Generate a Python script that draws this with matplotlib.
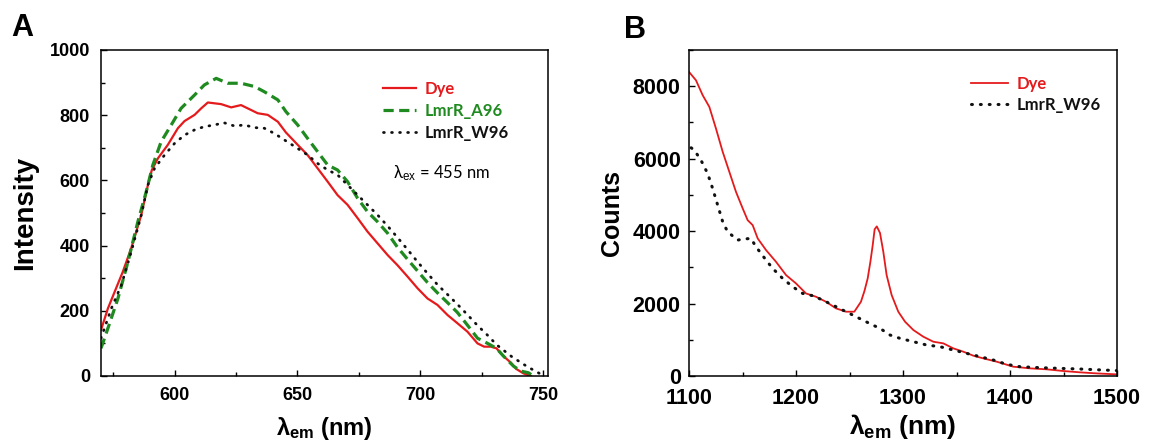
import matplotlib
matplotlib.use("Agg")
import matplotlib.pyplot as plt
from matplotlib.ticker import MultipleLocator

# ---------------- data ----------------
# Panel A : emission spectra, excitation 455 nm
wl_dye_A = [570, 572.8, 575.6, 578.9, 582.3, 586.4, 589.1, 590.7, 593.2, 597.2, 601.3, 604, 608.1,
            610.8, 613.5, 618.9, 623, 627, 631.1, 633.8, 637.9, 642, 645.3, 650.1, 654.1, 658.2,
            662.3, 666.3, 670.4, 674.5, 678.5, 682.6, 686.7, 690.7, 694.8, 698.9, 702.9, 707,
            711.1, 715.1, 719.2, 723.3, 726, 728.7, 731, 734, 737, 739, 742, 745]
int_dye_A = [141, 207, 259, 320, 392, 494, 586, 632, 668, 709, 760, 782, 801,
             821, 839, 834, 824, 831, 816, 806, 801, 780, 747, 709, 678, 637,
             596, 555, 525, 484, 443, 407, 371, 340, 305, 269, 238, 218,
             187, 162, 136, 100, 90, 90, 85, 60, 40, 22, 8, 0]

wl_a96_A = [570, 572.8, 576.9, 581, 585, 588.4, 591.1, 594.5, 598.6, 602.6, 608.1, 612.1, 616.9,
            621.6, 627, 632.5, 636.5, 642, 645.3, 650.1, 654.1, 658.2, 662.3, 666.3, 670.4,
            674.5, 678.5, 682.6, 686.7, 690.7, 694.8, 698.9, 702.9, 707, 711.1, 715.1, 719.2,
            723.3, 727.4, 731, 734, 738, 741, 744, 746]
int_a96_A = [85, 146, 238, 351, 473, 565, 647, 719, 770, 821, 862, 893, 913,
             898, 898, 888, 872, 847, 811, 770, 729, 688, 647, 632, 596,
             545, 504, 473, 438, 395, 358, 322, 287, 255, 225, 195, 156,
             116, 100, 85, 60, 30, 15, 10, 0]

wl_w96_A = [570, 574.2, 578.3, 582.3, 586.4, 589.1, 591.8, 595.9, 600, 604, 608.1, 612.1, 616.2,
            620, 624.3, 628.4, 632.5, 636.5, 640.6, 644.7, 650.1, 654.1, 658.2, 662.3, 666.3,
            670.4, 674.5, 678.5, 682.6, 686.7, 690.7, 694.8, 698.9, 702.9, 707, 711.1, 715.1,
            719.2, 723.3, 727.4, 731.2, 737.3, 743.5, 749.7]
int_w96_A = [116, 207, 279, 381, 494, 586, 637, 678, 714, 739, 755, 765, 770,
             777, 767, 770, 762, 760, 744, 724, 698, 678, 652, 632, 617,
             586, 555, 525, 494, 460, 425, 388, 350, 315, 280, 250, 220,
             188, 155, 125, 95, 59, 29, 3]

# Panel B : NIR emission (counts)
wl_dye_B = [1100, 1106.5, 1112.8, 1119, 1125.2, 1131.5, 1137.7, 1143.9, 1150.2, 1154.8, 1159.5,
            1164.2, 1172, 1181.3, 1190.7, 1200, 1209.3, 1218.7, 1228, 1237.4, 1246.7, 1254.5,
            1260.7, 1264, 1267, 1269.5, 1271.7, 1273.5, 1275.5, 1278.5, 1281.6, 1284.7, 1289.4,
            1295.6, 1301.9, 1309.7, 1319, 1328.3, 1337.7, 1347, 1356.4, 1365.7, 1375, 1387.6,
            1403.1, 1418.7, 1434.3, 1449.8, 1465.4, 1482, 1500]
cnt_dye_B = [8395, 8165, 7751, 7430, 6832, 6188, 5636, 5085, 4625, 4303, 4165,
             3798, 3476, 3154, 2786, 2556, 2280, 2188, 2050, 1867, 1775, 1775,
             2050, 2350, 2694, 3150, 3614, 4050, 4130, 3950, 3430, 2786, 2234,
             1775, 1499, 1269, 1085, 947, 901, 763, 671, 561, 487, 395,
             257, 211, 184, 138, 101, 70, 45]

wl_w96_B = [1102, 1105, 1111.2, 1117.4, 1122.1, 1126.8, 1131.5, 1136.1, 1145.5, 1150.2, 1157.9,
            1162.6, 1167.3, 1172, 1178.2, 1187.5, 1196.9, 1206.2, 1215.6, 1225, 1234.3, 1243.6,
            1253, 1262.3, 1271.7, 1278.5, 1287.9, 1297.2, 1309.7, 1322.1, 1334.6, 1347, 1359.5,
            1372, 1384.4, 1396.9, 1409.3, 1428, 1446, 1465.4, 1483, 1500]
cnt_w96_B = [6300, 6234, 5958, 5591, 5177, 4717, 4257, 3981, 3752, 3779, 3798,
             3568, 3384, 3200, 2970, 2694, 2464, 2280, 2216, 2096, 1959, 1821,
             1683, 1545, 1407, 1315, 1131, 1039, 947, 855, 809, 717, 625,
             533, 441, 322, 257, 230, 211, 193, 170, 150]

labels_A = ["Dye", "LmrR_A96", "LmrR_W96"]
labels_B = ["Dye", "LmrR_W96"]

# ---------------- style ----------------
plt.rcParams['font.family'] = ['Liberation Sans', 'DejaVu Sans']
plt.rcParams['mathtext.fontset'] = 'custom'
plt.rcParams['mathtext.rm'] = 'Liberation Sans'
plt.rcParams['mathtext.bf'] = 'Liberation Sans:bold'
plt.rcParams['mathtext.it'] = 'Liberation Sans:italic'

RED = '#e41a1c'
GREEN = '#1f8a1f'
BLACK = '#111111'
LEG_FONT = ['Lato', 'DejaVu Sans']

W, H = 1153, 447
fig = plt.figure(figsize=(W / 100, H / 100), dpi=100)
axA = fig.add_axes([101 / W, 1 - 376 / H, 447 / W, 326 / H])
axB = fig.add_axes([689 / W, 1 - 376 / H, 428 / W, 326 / H])

dot = (0, (0.3, 2.6))

# Panel A
axA.plot(wl_dye_A, int_dye_A, color=RED, lw=1.6, label=labels_A[0])
axA.plot(wl_a96_A, int_a96_A, color=GREEN, lw=2.3, linestyle=(0, (3.2, 1.7)), label=labels_A[1])
axA.plot(wl_w96_A, int_w96_A, color=BLACK, lw=2.0, linestyle=dot, dash_capstyle='round',
         label=labels_A[2])
axA.set_xlim(570, 752)
axA.set_ylim(0, 1000)
axA.xaxis.set_major_locator(MultipleLocator(50))
axA.xaxis.set_minor_locator(MultipleLocator(25))
axA.yaxis.set_major_locator(MultipleLocator(200))
axA.yaxis.set_minor_locator(MultipleLocator(100))

# Panel B
axB.plot(wl_dye_B, cnt_dye_B, color=RED, lw=1.3, label=labels_B[0])
axB.plot(wl_w96_B, cnt_w96_B, color=BLACK, lw=2.2, linestyle=dot, dash_capstyle='round',
         label=labels_B[1])
axB.set_xlim(1100, 1500)
axB.set_ylim(0, 9000)
axB.xaxis.set_major_locator(MultipleLocator(100))
axB.xaxis.set_minor_locator(MultipleLocator(50))
axB.yaxis.set_major_locator(MultipleLocator(2000))
axB.yaxis.set_minor_locator(MultipleLocator(1000))

for ax, fs, xpad, ypad in ((axA, 13, 8, 8), (axB, 15.5, 9, 6)):
    for s in ax.spines.values():
        s.set_linewidth(1.1)
    ax.tick_params(which='both', direction='in', top=False, right=False, width=1.0)
    ax.tick_params(which='major', length=4.5, labelsize=fs)
    ax.tick_params(axis='x', which='major', pad=xpad)
    ax.tick_params(axis='y', which='major', pad=ypad)
    ax.tick_params(which='minor', length=2.8)
    for lab in ax.get_xticklabels() + ax.get_yticklabels():
        lab.set_fontweight('bold')

axA.set_ylabel("Intensity", fontsize=20, fontweight='bold', labelpad=8)
axA.set_xlabel(r"λ$_{\mathbf{em}}$ (nm)", fontsize=17, fontweight='bold', labelpad=8)
axB.set_ylabel("Counts", fontsize=18, fontweight='bold', labelpad=6)
axB.set_xlabel(r"λ$_{\mathbf{em}}$ (nm)", fontsize=19, fontweight='bold', labelpad=2)

legA = axA.legend(loc='upper left', bbox_to_anchor=(0.63, 0.905), frameon=False,
                  handlelength=2.0, handletextpad=0.5, labelspacing=0.35, borderpad=0,
                  borderaxespad=0, labelcolor='linecolor',
                  prop={'family': LEG_FONT, 'weight': 'bold', 'size': 12})
legB = axB.legend(loc='upper left', bbox_to_anchor=(0.66, 0.92), frameon=False,
                  handlelength=2.2, handletextpad=0.5, labelspacing=0.3, borderpad=0,
                  borderaxespad=0, labelcolor='linecolor',
                  prop={'family': LEG_FONT, 'weight': 'bold', 'size': 12})

axA.text(689, 622, r"λ$_{\mathrm{ex}}$ = 455 nm", fontsize=12, family=LEG_FONT,
         va='center', ha='left')

fig.text(11 / W, 1 - 28 / H, "A", fontsize=22, fontweight='bold', va='center', ha='left')
fig.text(624 / W, 1 - 30 / H, "B", fontsize=22, fontweight='bold', va='center', ha='left')

fig.savefig("out.png", dpi=100)
